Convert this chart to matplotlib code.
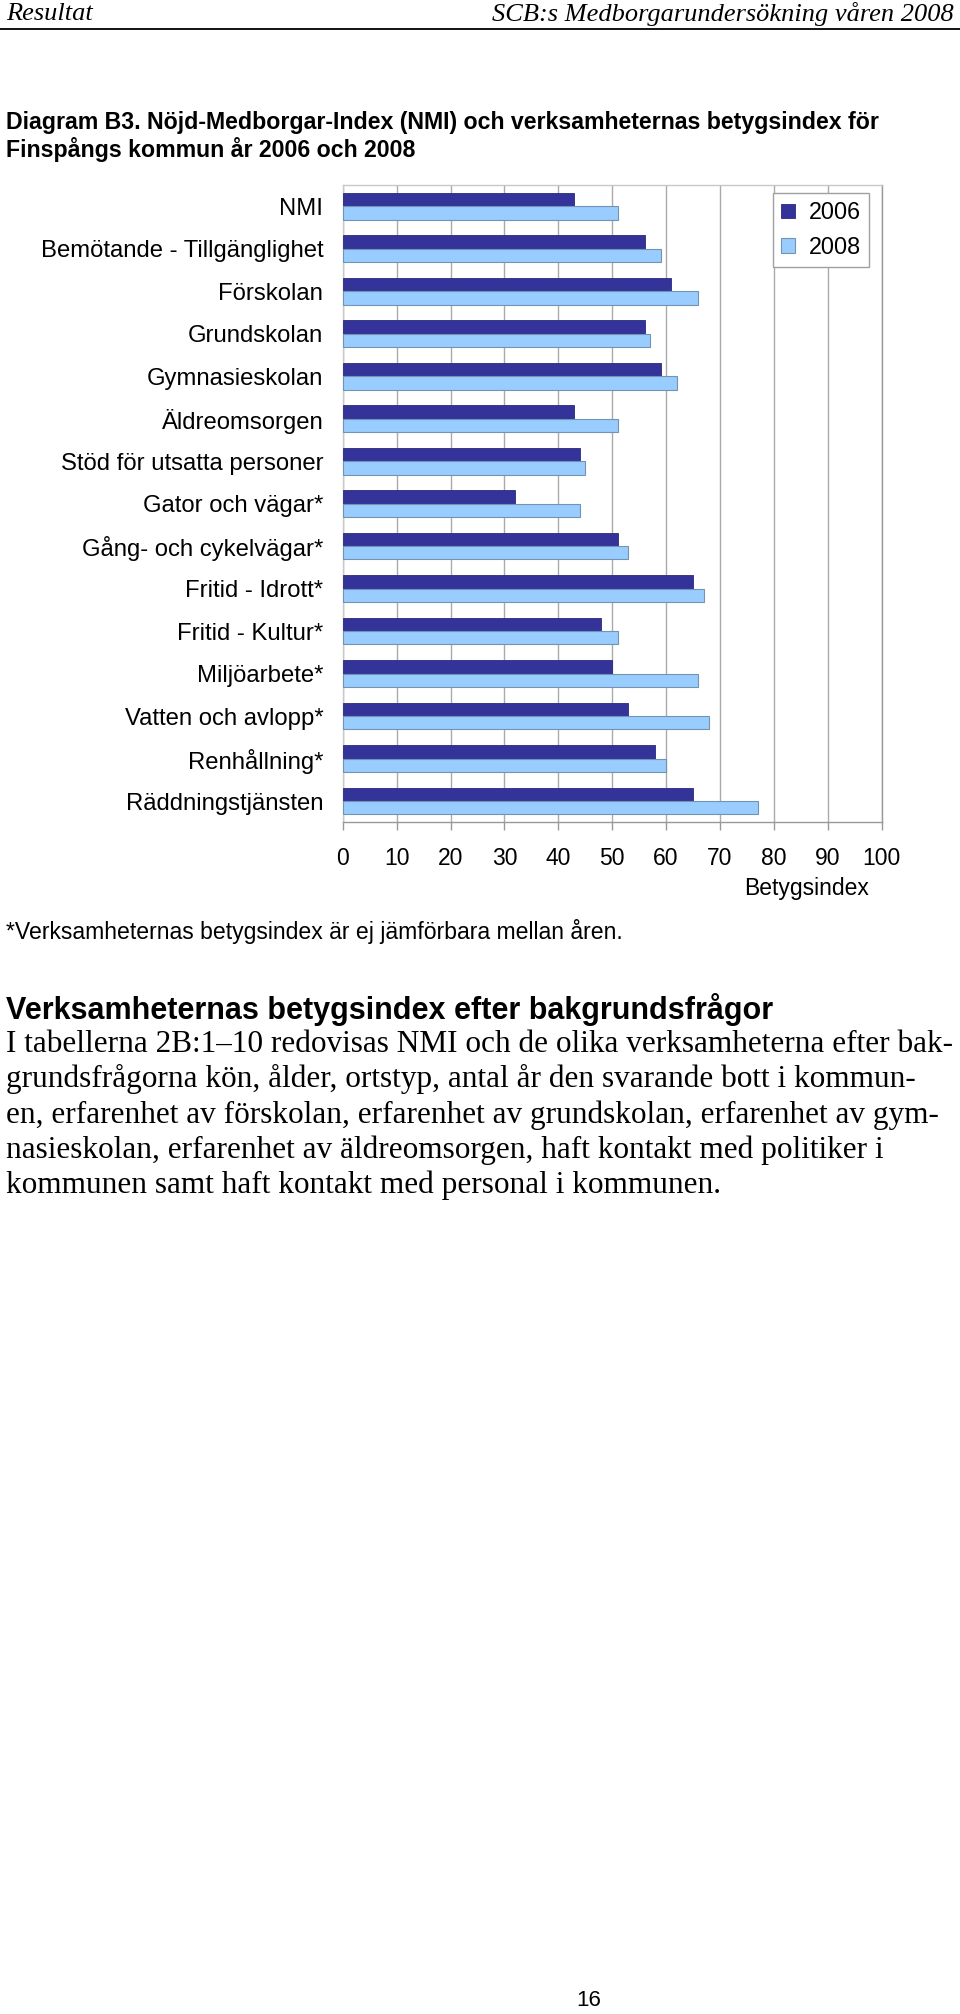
import numpy as np
import matplotlib
matplotlib.use("Agg")
import matplotlib.pyplot as plt
from matplotlib import font_manager

categories = ["NMI", "Bemötande - Tillgänglighet", "Förskolan", "Grundskolan",
              "Gymnasieskolan", "Äldreomsorgen", "Stöd för utsatta personer",
              "Gator och vägar*", "Gång- och cykelvägar*", "Fritid - Idrott*",
              "Fritid - Kultur*", "Miljöarbete*", "Vatten och avlopp*",
              "Renhållning*", "Räddningstjänsten"]
v2006 = [43, 56, 61, 56, 59, 43, 44, 32, 51, 65, 48, 50, 53, 58, 65]
v2008 = [51, 59, 66, 57, 62, 51, 45, 44, 53, 67, 51, 66, 68, 60, 77]
years = ["2006", "2008"]
xticks = list(range(0, 101, 10))

title = ("Diagram B3. Nöjd-Medborgar-Index (NMI) och verksamheternas betygsindex för\n"
         "Finspångs kommun år 2006 och 2008")
footnote = "*Verksamheternas betygsindex är ej jämförbara mellan åren."
heading = "Verksamheternas betygsindex efter bakgrundsfrågor"
paragraph = [
    "I tabellerna 2B:1\u201310 redovisas NMI och de olika verksamheterna efter bak-",
    "grundsfrågorna kön, ålder, ortstyp, antal år den svarande bott i kommun-",
    "en, erfarenhet av förskolan, erfarenhet av grundskolan, erfarenhet av gym-",
    "nasieskolan, erfarenhet av äldreomsorgen, haft kontakt med politiker i",
    "kommunen samt haft kontakt med personal i kommunen.",
]

plt.rcParams['font.family'] = ['Liberation Sans', 'DejaVu Sans']

try:
    font_manager.findfont('Liberation Sans Narrow', fallback_to_default=False)
    title_font = ['Liberation Sans Narrow', 'Liberation Sans']
    title_size = 19
except ValueError:
    title_font = ['Liberation Sans', 'DejaVu Sans']
    title_size = 16.7

W, H = 960, 2014
fig = plt.figure(figsize=(W / 100, H / 100), dpi=100)

# page header
fig.text(6 / W, 1 - 14 / H, "Resultat", family='Liberation Serif', style='italic',
         fontsize=19, va='center', ha='left')
fig.text(954 / W, 1 - 14 / H, "SCB:s Medborgarundersökning våren 2008",
         family='Liberation Serif', style='italic', fontsize=19, va='center', ha='right')
fig.add_artist(plt.Line2D([0, 1], [1 - 28.5 / H, 1 - 28.5 / H], color='black', lw=1.3))

fig.text(6 / W, 1 - 136.5 / H, title, family=title_font, fontweight='bold',
         fontsize=title_size, va='center', ha='left', linespacing=1.2)

# chart
ax = fig.add_axes([342.7 / W, 1 - 822.3 / H, 539 / W, 637.3 / H])
y = np.arange(len(categories))
h = 0.314
ax.barh(y - h / 2, v2006, height=h, color='#333399', edgecolor='#2a2a7a',
        lw=0.6, label=years[0], zorder=3)
ax.barh(y + h / 2, v2008, height=h, color='#99ccff', edgecolor='#7393b3',
        lw=0.8, label=years[1], zorder=3)

ax.set_xlim(0, 100)
ax.set_ylim(len(categories) - 0.5, -0.5)
ax.set_xticks(xticks)
ax.set_xticklabels([str(t) for t in xticks], fontsize=16.5)
ax.set_yticks(y)
ax.set_yticklabels(categories, fontsize=17.2)
ax.tick_params(axis='y', length=0, pad=14)
ax.tick_params(axis='x', length=6, width=1, color='#999999', pad=12)
ax.grid(axis='x', color='#aaaaaa', lw=1, zorder=0)
for side in ['top', 'left']:
    ax.spines[side].set_color('#c8c8c8')
for side in ['right', 'bottom']:
    ax.spines[side].set_color('#999999')
for s in ax.spines.values():
    s.set_linewidth(1)

fig.text(807 / W, 1 - 888 / H, "Betygsindex", fontsize=16.5, ha='center', va='center')

leg = ax.legend(loc='upper right', bbox_to_anchor=(869 / W, 1 - 193 / H),
                bbox_transform=fig.transFigure, borderaxespad=0, fancybox=False,
                edgecolor='#a0a0a0', fontsize=16.8, handlelength=0.6, handleheight=0.6,
                handletextpad=0.6, labelspacing=0.5, borderpad=0.35, framealpha=1)
leg.get_frame().set_linewidth(1)

fig.text(6 / W, 1 - 931 / H, footnote, fontsize=16.6, ha='left', va='center')

fig.text(6 / W, 1 - 1009 / H, heading, fontsize=22, fontweight='bold',
         ha='left', va='center')
for i, line in enumerate(paragraph):
    fig.text(6 / W, 1 - (1044 + i * 35.4) / H, line, family='Liberation Serif',
             fontsize=22.5, ha='left', va='center')

fig.text(589 / W, 1 - 2001 / H, "16", fontsize=16, ha='center', va='center')

fig.savefig("out.png", dpi=100)
